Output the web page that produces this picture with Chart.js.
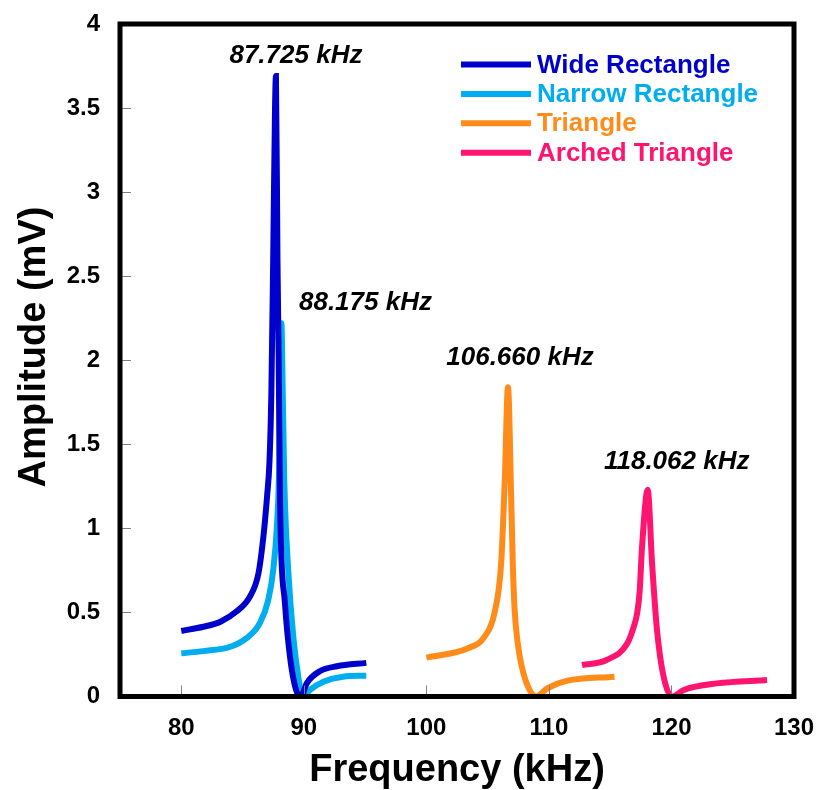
<!DOCTYPE html>
<html>
<head>
<meta charset="utf-8">
<script src="https://cdn.jsdelivr.net/npm/chart.js@4"></script>
<style>
    body { margin: 0; background: #fff; }
</style>
</head>
<body>
<canvas id="resonanceChart" width="818" height="790"></canvas>
<script>
// frequency sweeps (kHz) and measured amplitude (mV) for each electrode shape
const wideFreq = [80, 81.8, 83.2, 84.5, 85.6, 86.3, 86.7, 87.0, 87.2, 87.35, 87.5, 87.65, 87.725, 87.85, 87.95, 88.06, 88.46, 88.87, 89.36, 89.75, 90.25, 91.3, 92.7, 95.1];
const wideAmp = [0.39, 0.415, 0.445, 0.505, 0.594, 0.733, 0.95, 1.19, 1.4, 1.8, 2.6, 3.5, 3.69, 2.6, 2.0, 1.15, 0.556, 0.237, 0.04, 0.0, 0.08, 0.15, 0.18, 0.2];

const narrowFreq = [80, 81.8, 84.0, 85.3, 86.4, 87.1, 87.5, 87.8, 88.0, 88.1, 88.175, 88.25, 88.4, 88.73, 89.14, 89.55, 89.9, 90.5, 91.6, 93.2, 95.1];
const narrowAmp = [0.257, 0.27, 0.296, 0.346, 0.435, 0.574, 0.75, 1.01, 1.4, 2.0, 2.22, 1.95, 1.3, 0.75, 0.356, 0.118, 0.0, 0.04, 0.088, 0.118, 0.124];

const triangleFreq = [100, 103.4, 104.75, 105.55, 106.1, 106.4, 106.66, 106.92, 107.05, 107.2, 107.45, 107.75, 108.3, 108.95, 109.9, 111.5, 115.35];
const triangleAmp = [0.231, 0.287, 0.356, 0.495, 0.79, 1.29, 1.84, 1.19, 0.8, 0.52, 0.32, 0.19, 0.058, 0.0, 0.05, 0.094, 0.118];

const archedFreq = [112.7, 114.7, 116.4, 116.9, 117.2, 117.4, 117.6, 118.062, 118.42, 118.82, 119.36, 120.05, 121.0, 123.7, 127.8];
const archedAmp = [0.187, 0.217, 0.316, 0.41, 0.495, 0.62, 0.89, 1.23, 0.79, 0.396, 0.118, 0.0, 0.039, 0.078, 0.098];

const seriesNames = ['Wide Rectangle', 'Narrow Rectangle', 'Triangle', 'Arched Triangle'];
const peakLabels = ['87.725 kHz', '88.175 kHz', '106.660 kHz', '118.062 kHz'];

const xTickValues = [80, 90, 100, 110, 120, 130];
const yTickValues = [0, 0.5, 1, 1.5, 2, 2.5, 3, 3.5, 4];

const colors = ['#0000CC', '#00AEEF', '#FF8C1A', '#FF1470'];
const labelOffsets = [[20, -20], [84, -20], [12, -29], [29, -28]];
const FONT = "'Liberation Sans', Arial, sans-serif";

function toPoints(xs, ys) {
    return xs.map(function (v, i) { return { x: v, y: ys[i] }; });
}

// inward tick marks, heavy frame, y title, peak annotations and the legend box
const frameAndLabels = {
    id: 'frameAndLabels',
    afterDatasetsDraw(chart) {
        const c = chart.ctx;
        const a = chart.chartArea;
        const x = chart.scales.x;
        const y = chart.scales.y;
        c.save();

        c.strokeStyle = '#808080';
        c.lineWidth = 1;
        c.beginPath();
        yTickValues.forEach(function (v) {
            const py = Math.round(y.getPixelForValue(v)) + 0.5;
            c.moveTo(a.left, py);
            c.lineTo(a.left + 11, py);
        });
        xTickValues.forEach(function (v) {
            const px = Math.round(x.getPixelForValue(v)) + 0.5;
            c.moveTo(px, a.bottom);
            c.lineTo(px, a.bottom - 11);
        });
        c.stroke();

        c.strokeStyle = '#000';
        c.lineWidth = 5;
        c.strokeRect(a.left, a.top, a.right - a.left, a.bottom - a.top);

        c.fillStyle = '#000';
        c.textAlign = 'center';
        c.textBaseline = 'middle';

        c.save();
        c.translate(35, 347);
        c.rotate(-Math.PI / 2);
        c.font = 'bold 38px ' + FONT;
        c.fillText('Amplitude (mV)', 0, 0);
        c.restore();

        c.font = 'italic bold 26px ' + FONT;
        chart.data.datasets.forEach(function (ds, i) {
            const peak = ds.data.reduce(function (m, p) { return p.y > m.y ? p : m; });
            c.fillText(peakLabels[i],
                x.getPixelForValue(peak.x) + labelOffsets[i][0],
                y.getPixelForValue(peak.y) + labelOffsets[i][1]);
        });

        c.font = 'bold 26px ' + FONT;
        c.textAlign = 'left';
        chart.data.datasets.forEach(function (ds, i) {
            const ly = 64.5 + i * 29.4;
            c.strokeStyle = ds.borderColor;
            c.lineWidth = 6;
            c.beginPath();
            c.moveTo(461, ly);
            c.lineTo(531, ly);
            c.stroke();
            c.fillStyle = ds.borderColor;
            c.fillText(ds.label, 537, ly + 1);
        });

        c.restore();
    }
};

const ctx = document.getElementById('resonanceChart');

new Chart(ctx, {
    type: 'line',
    data: {
        datasets: [
            { label: seriesNames[0], data: toPoints(wideFreq, wideAmp), borderColor: colors[0] },
            { label: seriesNames[1], data: toPoints(narrowFreq, narrowAmp), borderColor: colors[1] },
            { label: seriesNames[2], data: toPoints(triangleFreq, triangleAmp), borderColor: colors[2] },
            { label: seriesNames[3], data: toPoints(archedFreq, archedAmp), borderColor: colors[3] }
        ]
    },
    options: {
        responsive: false,
        animation: false,
        devicePixelRatio: 1,
        layout: { padding: { top: 24, right: 24, left: 0, bottom: 0 } },
        elements: {
            point: { radius: 0 },
            line: { borderWidth: 6, cubicInterpolationMode: 'monotone', fill: false }
        },
        plugins: {
            legend: { display: false },
            tooltip: { enabled: false }
        },
        scales: {
            x: {
                type: 'linear',
                min: 75,
                max: 130,
                grid: { display: false, drawTicks: false },
                border: { display: false },
                afterBuildTicks: function (s) { s.ticks = xTickValues.map(function (v) { return { value: v }; }); },
                afterFit: function (s) {
                    s.height = 93.5;
                    s.paddingLeft = 0;
                    s.paddingRight = 0;
                },
                ticks: { color: '#000', font: { family: FONT, size: 24, weight: 'bold' }, padding: 17, maxRotation: 0, autoSkip: false },
                title: { display: true, text: 'Frequency (kHz)', color: '#000', font: { family: FONT, size: 38, weight: 'bold', lineHeight: 1 }, padding: 0 }
            },
            y: {
                min: 0,
                max: 4,
                grid: { display: false, drawTicks: false },
                border: { display: false },
                afterBuildTicks: function (s) { s.ticks = yTickValues.map(function (v) { return { value: v }; }); },
                afterFit: function (s) {
                    s.width = 120;
                    s.paddingTop = 0;
                    s.paddingBottom = 0;
                },
                ticks: {
                    color: '#000',
                    font: { family: FONT, size: 24, weight: 'bold' },
                    padding: 20,
                    autoSkip: false,
                    callback: function (v) { return String(v); }
                }
            }
        }
    },
    plugins: [frameAndLabels]
});
</script>
</body>
</html>
